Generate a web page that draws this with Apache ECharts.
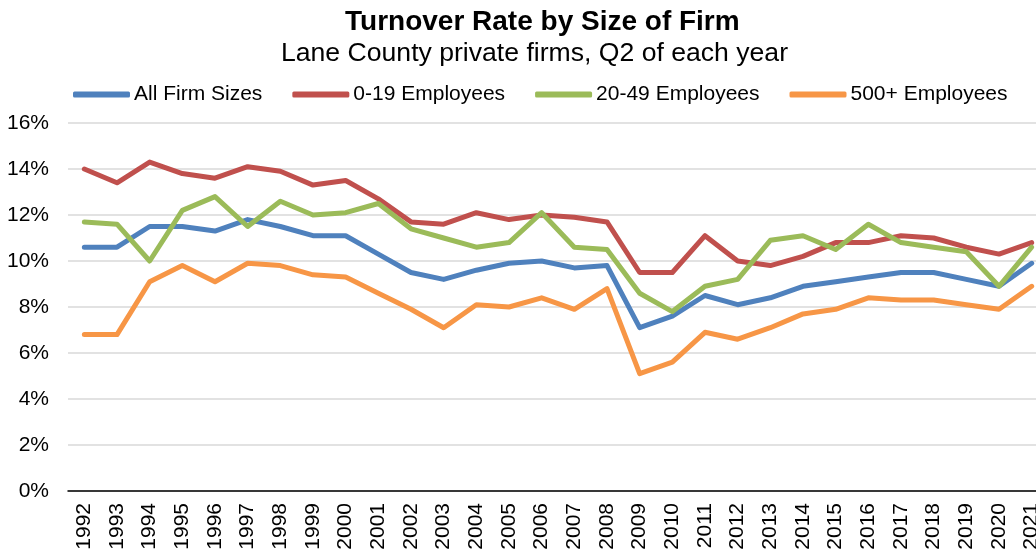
<!DOCTYPE html>
<html lang="en">
<head>
    <meta charset="UTF-8">
    <title>Turnover Rate by Size of Firm</title>
    <script src="https://cdn.jsdelivr.net/npm/echarts@6/dist/echarts.min.js"></script>
    <style>
        html, body { margin: 0; padding: 0; background: #fff; }
        #chart { width: 1036px; height: 554px; }
    </style>
</head>
<body>
    <div id="chart"></div>
    <script>
        // years on the x axis
        const years = ['1992', '1993', '1994', '1995', '1996', '1997', '1998', '1999', '2000', '2001',
            '2002', '2003', '2004', '2005', '2006', '2007', '2008', '2009', '2010', '2011',
            '2012', '2013', '2014', '2015', '2016', '2017', '2018', '2019', '2020', '2021'];

        // turnover rate, percent
        const allFirms = [10.6, 10.6, 11.5, 11.5, 11.3, 11.8, 11.5, 11.1, 11.1, 10.3,
            9.5, 9.2, 9.6, 9.9, 10.0, 9.7, 9.8, 7.1, 7.6, 8.5,
            8.1, 8.4, 8.9, 9.1, 9.3, 9.5, 9.5, 9.2, 8.9, 9.9];
        const emp0to19 = [14.0, 13.4, 14.3, 13.8, 13.6, 14.1, 13.9, 13.3, 13.5, 12.7,
            11.7, 11.6, 12.1, 11.8, 12.0, 11.9, 11.7, 9.5, 9.5, 11.1,
            10.0, 9.8, 10.2, 10.8, 10.8, 11.1, 11.0, 10.6, 10.3, 10.8];
        const emp20to49 = [11.7, 11.6, 10.0, 12.2, 12.8, 11.5, 12.6, 12.0, 12.1, 12.5,
            11.4, 11.0, 10.6, 10.8, 12.1, 10.6, 10.5, 8.6, 7.8, 8.9,
            9.2, 10.9, 11.1, 10.5, 11.6, 10.8, 10.6, 10.4, 8.9, 10.6];
        const emp500plus = [6.8, 6.8, 9.1, 9.8, 9.1, 9.9, 9.8, 9.4, 9.3, 8.6,
            7.9, 7.1, 8.1, 8.0, 8.4, 7.9, 8.8, 5.1, 5.6, 6.9,
            6.6, 7.1, 7.7, 7.9, 8.4, 8.3, 8.3, 8.1, 7.9, 8.9];

        const seriesNames = ['All Firm Sizes', '0-19 Employees', '20-49 Employees', '500+ Employees'];
        const seriesData = [allFirms, emp0to19, emp20to49, emp500plus];
        const colors = ['#4F81BD', '#C0504D', '#9BBB59', '#F79646'];

        const font = 'Liberation Sans, Arial, sans-serif';
        const chart = echarts.init(document.getElementById('chart'));

        const option = {
            animation: false,
            color: colors,
            textStyle: { fontFamily: font },
            title: [
                {
                    text: 'Turnover Rate by Size of Firm',
                    left: 345,
                    top: 8,
                    padding: 0,
                    textStyle: { fontFamily: font, fontSize: 28, fontWeight: 'bold', color: '#000' }
                },
                {
                    text: 'Lane County private firms, Q2 of each year',
                    left: 281,
                    top: 40,
                    padding: 0,
                    textStyle: { fontFamily: font, fontSize: 26.6, fontWeight: 'normal', color: '#000' }
                }
            ],
            legend: {
                data: seriesNames,
                left: 73,
                top: 84,
                padding: 0,
                icon: 'roundRect',
                itemWidth: 57,
                itemHeight: 6,
                itemGap: 30,
                textStyle: { fontFamily: font, fontSize: 21, color: '#000', padding: [0, 0, 0, -1] }
            },
            grid: {
                left: 68,
                top: 123,
                width: 980,
                height: 368,
                outerBoundsMode: 'none'
            },
            xAxis: {
                type: 'category',
                data: years,
                boundaryGap: true,
                axisLine: { lineStyle: { color: '#000', width: 1.5 } },
                axisTick: { show: false },
                axisLabel: {
                    rotate: 90,
                    interval: 0,
                    margin: 12,
                    fontSize: 21,
                    color: '#000',
                    fontFamily: font
                }
            },
            yAxis: {
                type: 'value',
                min: 0,
                max: 16,
                interval: 2,
                axisLine: { show: false },
                axisTick: { show: false },
                splitLine: { lineStyle: { color: '#D9D9D9', width: 1.5 } },
                axisLabel: {
                    formatter: '{value}%',
                    margin: 19,
                    fontSize: 21,
                    color: '#000',
                    fontFamily: font
                }
            },
            series: seriesNames.map((name, i) => ({
                name: name,
                type: 'line',
                data: seriesData[i],
                showSymbol: false,
                symbol: 'none',
                lineStyle: { width: 5, cap: 'round', join: 'round', color: colors[i] }
            }))
        };
        chart.setOption(option);
    </script>
</body>
</html>
